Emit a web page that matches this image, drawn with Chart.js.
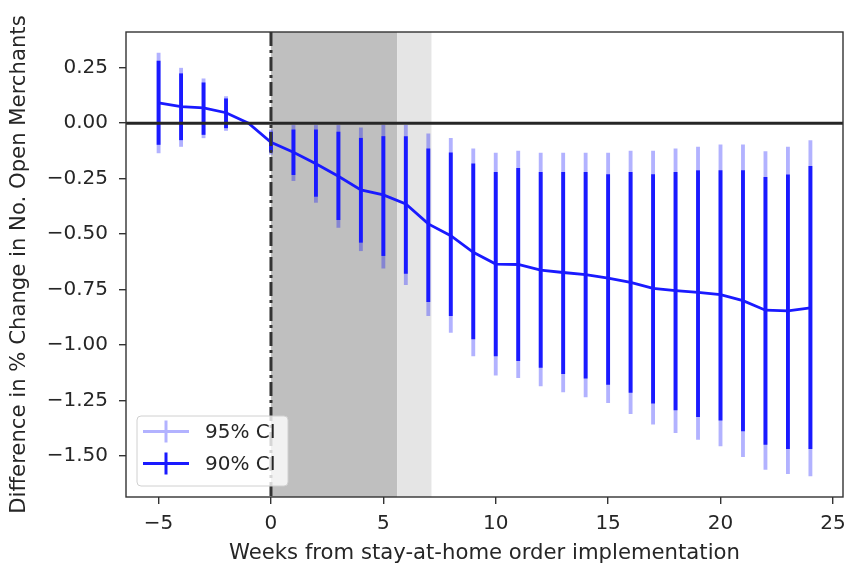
<!DOCTYPE html>
<html><head><meta charset="utf-8">
<script src="https://cdn.jsdelivr.net/npm/chart.js@4/dist/chart.umd.min.js"></script>
<style>html,body{margin:0;padding:0;background:#fff}#wrap{width:844px;height:563px}</style>
</head><body><div id="wrap"><canvas id="c" width="844" height="563"></canvas></div>
<script>
const weeks    = [-5, -4, -3, -2, -1, 0, 1, 2, 3, 4, 5, 6, 7, 8, 9, 10, 11, 12, 13, 14, 15, 16, 17, 18, 19, 20, 21, 22, 23, 24];
const estimate = [0.092, 0.075, 0.069, 0.047, 0.0, -0.086, -0.131, -0.183, -0.239, -0.301, -0.323, -0.364, -0.454, -0.507, -0.582, -0.635, -0.637, -0.662, -0.673, -0.683, -0.698, -0.718, -0.745, -0.755, -0.763, -0.773, -0.800, -0.843, -0.846, -0.833];
const ci90Low  = [-0.096, -0.075, -0.051, -0.021, null, -0.128, -0.232, -0.330, -0.435, -0.537, -0.597, -0.677, -0.804, -0.868, -0.973, -1.049, -1.071, -1.101, -1.129, -1.149, -1.177, -1.214, -1.262, -1.293, -1.323, -1.339, -1.387, -1.448, -1.467, -1.467];
const ci90High = [0.280, 0.223, 0.182, 0.110, null, -0.040, -0.030, -0.030, -0.040, -0.068, -0.060, -0.060, -0.116, -0.134, -0.183, -0.221, -0.203, -0.221, -0.221, -0.221, -0.232, -0.221, -0.232, -0.221, -0.214, -0.214, -0.214, -0.244, -0.233, -0.194];
const ci95Low  = [-0.134, -0.105, -0.066, -0.033, null, -0.140, -0.259, -0.357, -0.470, -0.575, -0.653, -0.728, -0.868, -0.943, -1.049, -1.136, -1.147, -1.184, -1.211, -1.234, -1.260, -1.309, -1.357, -1.395, -1.425, -1.455, -1.503, -1.561, -1.580, -1.590];
const ci95High = [0.316, 0.248, 0.200, 0.120, null, -0.030, -0.010, -0.010, -0.010, -0.021, -0.010, -0.010, -0.048, -0.068, -0.116, -0.135, -0.126, -0.135, -0.135, -0.135, -0.135, -0.126, -0.126, -0.116, -0.108, -0.098, -0.098, -0.128, -0.108, -0.078];
const shadeSpans = [[0, 5.62], [5.62, 7.14]];
const orderLineWeek = [0];
const zeroLineValue = [0];
const xTickValues = [-5, 0, 5, 10, 15, 20, 25];
const xTickLabels = ['−5', '0', '5', '10', '15', '20', '25'];
const yTickValues = [-1.5, -1.25, -1, -0.75, -0.5, -0.25, 0, 0.25];
const yTickLabels = ['−1.50', '−1.25', '−1.00', '−0.75', '−0.50', '−0.25', '0.00', '0.25'];
const legendLabels = ['95% CI', '90% CI'];
const xTitle = 'Weeks from stay-at-home order implementation';
const yTitle = 'Difference in % Change in No. Open Merchants';

const FONT = 'DejaVu Sans';
const FS = 20;
const FT = 21.2;
const TXT = '#262626';
const BLUE = '#1a1aff';
const LIGHT = 'rgba(0,0,255,0.3)';

function bars(lo, hi) {
  const out = [];
  weeks.forEach((w, i) => { if (lo[i] !== null && hi[i] !== null) out.push({x: w, y: [lo[i], hi[i]]}); });
  return out;
}

function drawHandle(ctx, cx, cy, color) {
  ctx.save();
  ctx.strokeStyle = color;
  ctx.lineWidth = 3;
  ctx.beginPath();
  ctx.moveTo(cx - 23, cy); ctx.lineTo(cx + 23, cy);
  ctx.moveTo(cx, cy - 11); ctx.lineTo(cx, cy + 11);
  ctx.stroke();
  ctx.restore();
}

const decor = {
  id: 'decor',
  beforeDatasetsDraw(chart) {
    const {ctx, chartArea: a, scales: {x}} = chart;
    const cols = ['#bfbfbf', '#e5e5e5'];
    ctx.save();
    shadeSpans.forEach((s, i) => {
      const x0 = x.getPixelForValue(s[0]), x1 = x.getPixelForValue(s[1]);
      ctx.fillStyle = cols[i];
      ctx.fillRect(x0, a.top, x1 - x0, a.bottom - a.top);
    });
    ctx.restore();
  },
  afterDatasetsDraw(chart) {
    const {ctx, chartArea: a, scales: {x, y}} = chart;
    ctx.save();
    const y0 = y.getPixelForValue(zeroLineValue[0]);
    ctx.strokeStyle = '#262626';
    ctx.lineWidth = 3;
    ctx.beginPath(); ctx.moveTo(a.left, y0); ctx.lineTo(a.right, y0); ctx.stroke();
    const xv = x.getPixelForValue(orderLineWeek[0]);
    ctx.strokeStyle = '#333333';
    ctx.setLineDash([14, 4, 3, 4]);
    ctx.beginPath(); ctx.moveTo(xv, a.top); ctx.lineTo(xv, a.bottom); ctx.stroke();
    ctx.setLineDash([]);
    ctx.strokeStyle = '#333333';
    ctx.lineWidth = 1.4;
    ctx.strokeRect(a.left, a.top, a.right - a.left, a.bottom - a.top);
    const lx = a.left + 11, ly = a.bottom - 81, lw = 151, lh = 70, r = 4;
    ctx.beginPath();
    ctx.moveTo(lx + r, ly); ctx.lineTo(lx + lw - r, ly); ctx.quadraticCurveTo(lx + lw, ly, lx + lw, ly + r);
    ctx.lineTo(lx + lw, ly + lh - r); ctx.quadraticCurveTo(lx + lw, ly + lh, lx + lw - r, ly + lh);
    ctx.lineTo(lx + r, ly + lh); ctx.quadraticCurveTo(lx, ly + lh, lx, ly + lh - r);
    ctx.lineTo(lx, ly + r); ctx.quadraticCurveTo(lx, ly, lx + r, ly);
    ctx.closePath();
    ctx.fillStyle = 'rgba(255,255,255,0.8)';
    ctx.fill();
    ctx.strokeStyle = '#d0d0d0';
    ctx.lineWidth = 1;
    ctx.stroke();
    const rows = [ly + 15.5, ly + 47.5];
    drawHandle(ctx, lx + 29, rows[0], LIGHT);
    drawHandle(ctx, lx + 29, rows[1], BLUE);
    ctx.fillStyle = TXT;
    ctx.font = FS + 'px "' + FONT + '"';
    ctx.textBaseline = 'middle';
    ctx.textAlign = 'left';
    ctx.fillText(legendLabels[0], lx + 68, rows[0] + 1);
    ctx.fillText(legendLabels[1], lx + 68, rows[1] + 1);
    ctx.restore();
  }
};

new Chart(document.getElementById('c'), {
  type: 'bar',
  data: {
    datasets: [
      {type: 'line', label: 'estimate', data: weeks.map((w, i) => ({x: w, y: estimate[i]})),
       borderColor: BLUE, borderWidth: 2.8, pointRadius: 0, tension: 0, fill: false, order: 1},
      {type: 'bar', label: legendLabels[1], data: bars(ci90Low, ci90High), backgroundColor: BLUE,
       barThickness: 3.2, grouped: false, borderWidth: 0, order: 2},
      {type: 'bar', label: legendLabels[0], data: bars(ci95Low, ci95High), backgroundColor: LIGHT,
       barThickness: 3.2, grouped: false, borderWidth: 0, order: 3}
    ]
  },
  options: {
    responsive: false,
    animation: false,
    devicePixelRatio: 1,
    layout: {padding: {left: 0, right: 1, top: 32, bottom: 0}},
    plugins: {legend: {display: false}, tooltip: {enabled: false}},
    scales: {
      x: {
        type: 'linear', min: -6.45, max: 25.45, offset: false,
        afterBuildTicks: s => { s.ticks = xTickValues.map(v => ({value: v})); },
        afterFit: s => { s.height = 66; s.paddingLeft = 0; s.paddingRight = 0; },
        ticks: {callback: v => xTickLabels[xTickValues.indexOf(v)], color: TXT, font: {family: FONT, size: FS}, padding: 8, maxRotation: 0, autoSkip: false},
        grid: {display: true, offset: false, drawOnChartArea: false, drawTicks: true, tickLength: 7, color: '#333333', lineWidth: 1.4},
        border: {display: false},
        title: {display: true, text: xTitle, color: TXT, font: {family: FONT, size: FT}, padding: {top: 0, bottom: -3}}
      },
      y: {
        type: 'linear', min: -1.685, max: 0.411, beginAtZero: false,
        afterBuildTicks: s => { s.ticks = yTickValues.map(v => ({value: v})); },
        afterFit: s => { s.width = 126; s.paddingTop = 0; s.paddingBottom = 0; },
        ticks: {callback: v => yTickLabels[yTickValues.indexOf(v)], color: TXT, font: {family: FONT, size: FS}, padding: 11, autoSkip: false},
        grid: {display: true, drawOnChartArea: false, drawTicks: true, tickLength: 7, color: '#333333', lineWidth: 1.4},
        border: {display: false},
        title: {display: true, text: yTitle, color: TXT, font: {family: FONT, size: FT}, padding: {top: 7, bottom: 0}}
      }
    }
  },
  plugins: [decor]
});
</script>
</body></html>
